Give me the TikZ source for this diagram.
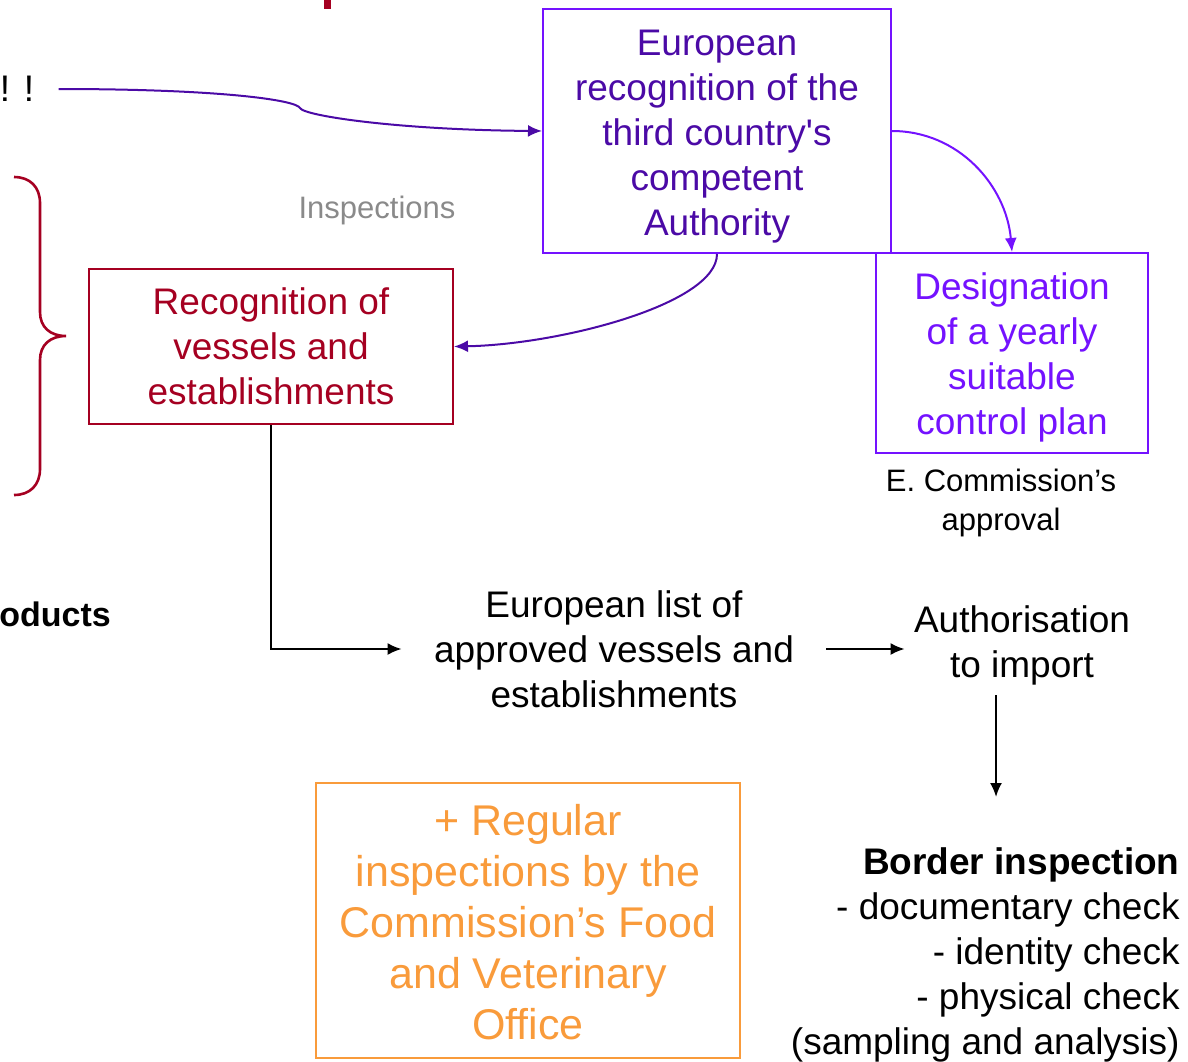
\documentclass[tikz,border=0pt]{standalone}
\usepackage{fontspec}
\setmainfont{Liberation Sans}
\usetikzlibrary{arrows.meta}
\definecolor{redc}{HTML}{A50021}
\definecolor{purpdark}{HTML}{4B0AA6}
\definecolor{violetc}{HTML}{7412FF}
\definecolor{orangec}{HTML}{F99B3B}
\definecolor{grayc}{HTML}{8A8A8A}
\newcommand\fmain{\fontsize{18.5}{22.5}\selectfont}
\newcommand\fsmall{\fontsize{15.5}{19.5}\selectfont}
\newcommand\fbig{\fontsize{21.5}{25.5}\selectfont}
\begin{document}
\begin{tikzpicture}[x=0.5pt,y=-0.5pt]
    \tikzstyle{every node}=[align=center,inner sep=0pt,font=\fmain]
    \tikzstyle{box}=[draw,line width=1pt]
    \tikzstyle{arr}=[line width=1pt,-{Latex[length=7pt,width=6pt]}]
    \useasboundingbox (0,0) rectangle (1188,1061);
    % piece of the title
    \fill[redc] (324,0) rectangle (331,9);
    \node (excl) at (17,89) {! !};
    \node[anchor=west,font=\fontsize{17}{20}\selectfont\bfseries] (prod) at (-1,614) {oducts};
    % boxes
    \node[box,draw=violetc,text=purpdark,minimum width=174pt,minimum height=122pt] (euro) at (717,131)
        {\rule{0pt}{18.2pt}European\\recognition of the\\third country\textquotesingle s\\competent\\Authority};
    \node[box,draw=violetc,text=violetc,minimum width=136pt,minimum height=100pt] (plan) at (1012,353)
        {\rule{0pt}{18.2pt}Designation\\of a yearly\\suitable\\control plan};
    \node[font=\fsmall] (appr) at (1001,500) {\rule{0pt}{14.1pt}E. Commission’s\\approval};
    \node[box,draw=redc,text=redc,minimum width=182pt,minimum height=77.5pt] (recog) at (271,346.5)
        {Recognition of\\vessels and\\establishments};
    \node[text=grayc,font=\fsmall] (insp) at (377,210) {Inspections};
    \node[inner xsep=16pt,inner ysep=3pt] (list) at (614,649)
        {European list of\\approved vessels and\\establishments};
    \node[inner xsep=4.5pt,inner ysep=5pt] (auth) at (1022,642) {\rule{0pt}{16.4pt}Authorisation\\to import};
    \node[anchor=east,align=right] (border) at (1180,951)
        {\rule{0pt}{17.4pt}\textbf{Border inspection}\\- documentary check\\- identity check\\- physical check\\(sampling and analysis)};
    \node[box,draw=orangec,text=orangec,font=\fbig,minimum width=212pt,minimum height=137.5pt] (office) at (528,920.5)
        {\rule{0pt}{17.4pt}+ Regular\\inspections by the\\Commission’s Food\\and Veterinary\\Office};
    \coordinate (bi) at (996,797);
    % brace
    \draw[redc,line width=1.3pt] (14,177) .. controls (30,177) and (40,187) .. (40,203) -- (40,312)
        .. controls (40,327) and (50,336) .. (66,336) .. controls (50,336) and (40,345) .. (40,360)
        -- (40,469) .. controls (40,485) and (30,495) .. (14,495);
    % connectors
    \draw[arr,purpdark] (excl.east) ++(12pt,0pt) .. controls (220,89) and (296,100) .. (300,108)
        .. controls (304,116) and (400,130) .. (euro.west);
    \draw[arr,violetc] (euro.east) to[out=0,in=95] (plan.north);
    \draw[arr,purpdark] (euro.south) .. controls +(0,-25pt) and +(53pt,1pt) .. (recog.east);
    \draw[arr] (recog.south) |- (list.west);
    \draw[arr] (list.east) -- (list.east -| auth.west);
    \draw[arr] (auth.south -| bi) -- (bi);
\end{tikzpicture}
\end{document}
